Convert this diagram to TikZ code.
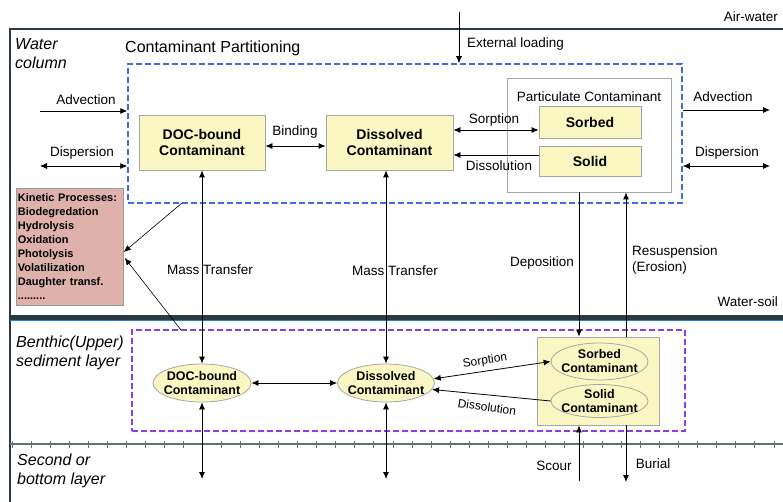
\documentclass[tikz,border=0pt]{standalone}
\usepackage{fontspec}
\setmainfont{Liberation Sans}
\usetikzlibrary{arrows.meta,shapes.geometric}

\definecolor{boxyellow}{HTML}{FAF7C2}
\definecolor{kinpink}{HTML}{DEB2AB}
\definecolor{partblue}{HTML}{3C6FE3}
\definecolor{sedpurple}{HTML}{8A3BEA}
\definecolor{soilnavy}{HTML}{2C3A44}
\definecolor{soilblue}{HTML}{2A7FC0}
\definecolor{tickgray}{HTML}{5E7272}

\tikzset{
  flow/.style={-{Latex[length=7pt,width=6pt]}, line width=0.8pt},
  twoway/.style={{Latex[length=7pt,width=6pt]}-{Latex[length=7pt,width=6pt]}, line width=0.8pt},
  ybox/.style={draw=gray!70, fill=boxyellow, line width=0.8pt, inner sep=0pt, align=center,
    font=\bfseries\fontsize{14}{16}\selectfont},
  yell/.style={ellipse, draw=gray!70, fill=boxyellow, line width=0.8pt, inner xsep=-12pt,
    inner ysep=-5pt, align=center, font=\bfseries\fontsize{12.5}{14}\selectfont},
  lbl/.style={font=\fontsize{13.5}{16}\selectfont, inner sep=0pt, align=left},
  layer/.style={font=\itshape\fontsize{16}{19}\selectfont, inner sep=0pt, align=left},
  zone/.style={dash pattern=on 6pt off 3pt, line width=1.5pt, inner sep=0pt}
}

\begin{document}
\begin{tikzpicture}[x=1pt,y=-1pt]
\useasboundingbox (0,0) rectangle (783,502);

% interfaces
\draw[line width=1.5pt, soilnavy] (10,502) -- (10,29) -- (783,29);
\draw[line width=6pt, soilblue] (10,317.5) -- (783,317.5);
\draw[line width=4.2pt, soilnavy] (10,317.5) -- (783,317.5);
\draw[line width=1.2pt, tickgray] (10,444) -- (783,444);
\foreach \x in {0,...,40}
  \draw[line width=1pt, tickgray] (12+19.05*\x,441) -- ++(0,6.5);

\node[lbl, anchor=east] (airwater) at (778,17) {Air-water};
\node[lbl, anchor=east] (watersoil) at (778,302) {Water-soil};
\node[layer, anchor=north west] (wcol) at (15,38) {Water\\column};
\node[layer, anchor=north west] (benthic) at (16,336) {Benthic(Upper)\\sediment layer};
\node[layer, anchor=north west] (second) at (17,454) {Second or\\bottom layer};

% water column partitioning
\node[zone, draw=partblue, minimum width=554pt, minimum height=139pt] (part) at (405,133.5) {};
\node[lbl, font=\fontsize{16}{18}\selectfont, anchor=west] (parttitle) at (125,48) {Contaminant Partitioning};
\node[ybox, minimum width=126pt, minimum height=55pt] (doc) at (202,142.5) {DOC-bound\\Contaminant};
\node[ybox, minimum width=127pt, minimum height=55pt] (diss) at (389.5,142.5) {Dissolved\\Contaminant};
\node[draw=gray!70, line width=0.8pt, minimum width=164pt, minimum height=114pt] (pbox) at (589,135) {};
\node[lbl] (ptitle) at (589,97) {Particulate Contaminant};
\node[ybox, minimum width=102pt, minimum height=32pt] (sorbed) at (590,122) {Sorbed};
\node[ybox, minimum width=102pt, minimum height=30pt] (solid) at (590,161) {Solid};

\node[draw=gray!80, fill=kinpink, line width=0.8pt, anchor=north west, text width=104pt,
  minimum height=117pt, inner xsep=1.5pt, inner ysep=2pt, align=left,
  font=\bfseries\fontsize{11}{14}\selectfont] (kin) at (16,188)
  {Kinetic Processes:\\Biodegredation\\Hydrolysis\\Oxidation\\Photolysis\\Volatilization\\Daughter transf.\\.........};

% benthic layer
\node[zone, draw=sedpurple, minimum width=553pt, minimum height=101pt] (sed) at (408.5,380.5) {};
\node[yell, minimum width=98pt, minimum height=38pt] (docS) at (202,383) {DOC-bound\\Contaminant};
\node[yell, minimum width=97pt, minimum height=38pt] (dissS) at (386,383) {Dissolved\\Contaminant};
\node[draw=gray!70, fill=boxyellow, line width=0.8pt, minimum width=122pt, minimum height=88pt] (sedP) at (598,381) {};
\node[yell, minimum width=97pt, minimum height=37pt] (sorbS) at (599.5,361.5) {Sorbed\\Contaminant};
\node[yell, minimum width=97pt, minimum height=33pt] (solidS) at (599.5,401) {Solid\\Contaminant};

% loads and transport
\coordinate (load) at (459,12);
\draw[flow] (load) -- (load |- part.north);
\node[lbl, anchor=west] (loadlbl) at (467,44) {External loading};

\coordinate (advL) at (40,111);
\draw[flow] (advL) -- (advL -| part.west);
\node[lbl] at (86,100) {Advection};
\coordinate (dspL) at (40,166);
\draw[twoway] (dspL) -- (dspL -| part.west);
\node[lbl] at (82,153) {Dispersion};

\coordinate (advR) at (770,110);
\draw[flow] (advR -| part.east) -- (advR);
\node[lbl] at (723,97) {Advection};
\coordinate (dspR) at (770,166);
\draw[twoway] (dspR -| part.east) -- (dspR);
\node[lbl] at (727,153) {Dispersion};

\draw[twoway] ([yshift=-3.5pt]doc.east) -- ([yshift=-3.5pt]diss.west);
\node[lbl] at (295,132) {Binding};
\draw[twoway] ([yshift=-8pt]diss.east |- sorbed.west) -- ([yshift=-8pt]sorbed.west);
\node[lbl] at (494,120) {Sorption};
\draw[flow] ([yshift=6pt]solid.west) -- ([yshift=6pt]solid.west -| diss.east);
\node[lbl] at (499,166) {Dissolution};

% kinetic processes
\draw[flow, line width=0.6pt] (182,203) -- (kin.east |- 0,252);
\draw[flow, line width=0.6pt] (181,330) -- ([xshift=1pt]kin.east |- 0,258);

% exchange with sediment
\draw[twoway] (doc.south -| docS.north) -- (docS.north);
\node[lbl] at (210,270) {Mass Transfer};
\draw[twoway] (dissS.north |- diss.south) -- (dissS.north);
\node[lbl] at (395,271) {Mass Transfer};

\coordinate (dep) at (579,0);
\coordinate (res) at (626,0);
\draw[flow] (dep |- pbox.south) -- (dep |- sedP.north);
\node[lbl] at (542,263) {Deposition};
\draw[flow] (res |- sedP.north) -- (res |- pbox.south);
\node[lbl, anchor=west] at (632,260) {Resuspension\\(Erosion)};

% benthic exchange
\draw[twoway] (docS.east) -- (dissS.west);
\draw[twoway] (dissS.5) -- (sorbS.west);
\node[lbl, font=\fontsize{12}{14}\selectfont, rotate=8] at (485,361) {Sorption};
\draw[flow] (solidS.west) -- (dissS.-8);
\node[lbl, font=\fontsize{12}{14}\selectfont, rotate=-8] at (487,407) {Dissolution};

% bottom layer
\draw[twoway] (docS.south) -- (docS.south |- 0,479);
\draw[twoway] (dissS.south) -- (dissS.south |- 0,479);
\draw[flow] (dep |- 0,481) -- (dep |- sedP.south);
\node[lbl] at (554,466) {Scour};
\draw[flow] (res |- sedP.south) -- (res |- 0,482);
\node[lbl] at (653,464) {Burial};
\end{tikzpicture}
\end{document}
